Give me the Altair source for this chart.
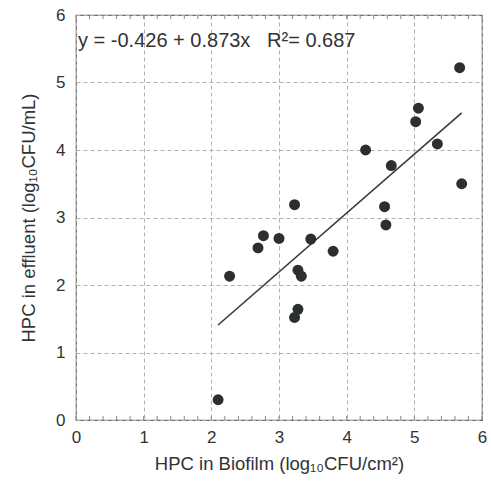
import altair as alt
import pandas as pd

biofilm = [5.67, 5.06, 5.02, 5.34, 4.28, 4.66, 5.70, 3.23, 4.56, 4.58,
           2.77, 2.69, 3.00, 3.47, 3.80, 2.27, 3.28, 3.33, 3.28, 3.23, 2.10]
effluent = [5.22, 4.62, 4.42, 4.09, 4.00, 3.77, 3.50, 3.19, 3.16, 2.89,
            2.73, 2.55, 2.69, 2.68, 2.50, 2.13, 2.22, 2.13, 1.64, 1.52, 0.30]
intercept = -0.426
slope = 0.873
r2 = 0.687
ticks = [0, 1, 2, 3, 4, 5, 6]
minor = [round(v * 0.2, 1) for v in range(31)]

FONT = "Liberation Sans"
NB = "\u00a0"
df = pd.DataFrame({"x": biofilm, "y": effluent})
xs = [min(biofilm), max(biofilm)]
line_df = pd.DataFrame({"x": xs, "y": [intercept + slope * v for v in xs]})
ann_text = f"y = {intercept} + {slope}x{NB}{NB}{NB}R\u00b2= {r2}".replace(" ", NB)
ann_df = pd.DataFrame({"x": [0.03], "y": [5.53], "t": [ann_text]})
minor_df = pd.DataFrame({"x": minor})

xscale = alt.Scale(domain=[0, 6], nice=False, zero=False)
yscale = alt.Scale(domain=[0, 6], nice=False, zero=False)

common = dict(values=ticks, format="d", grid=True, gridDash=[4, 3], gridColor="#b0b0b0",
              gridWidth=1, ticks=False, domain=False, labelFont=FONT, labelFontSize=17,
              labelColor="#333", labelFlush=False, labelOverlap=False, titleFont=FONT,
              titleFontSize=18.5, titleFontWeight="normal", titleColor="#333")
xaxis = alt.Axis(title="HPC in Biofilm (log\u2081\u2080CFU/cm\u00b2)", labelPadding=9,
                 titlePadding=9, **common)
yaxis = alt.Axis(title="HPC in effluent (log\u2081\u2080CFU/mL)", labelPadding=11,
                 titlePadding=17, **common)

points = alt.Chart(df).mark_circle(size=120, color="#2b2f2e", opacity=1).encode(
    x=alt.X("x:Q", scale=xscale, axis=xaxis),
    y=alt.Y("y:Q", scale=yscale, axis=yaxis),
)
fit = alt.Chart(line_df).mark_line(color="#3a3a3a", strokeWidth=1.6).encode(
    x=alt.X("x:Q", scale=xscale), y=alt.Y("y:Q", scale=yscale)
)
ann = alt.Chart(ann_df).mark_text(align="left", baseline="alphabetic", font=FONT,
                                  fontSize=20, color="#333").encode(
    x=alt.X("x:Q", scale=xscale), y=alt.Y("y:Q", scale=yscale), text="t:N"
)
top_minor = alt.Chart(minor_df).mark_rule(color="#888", strokeWidth=1).encode(
    x=alt.X("x:Q", scale=xscale), y=alt.value(0), y2=alt.value(4)
)
bot_minor = alt.Chart(minor_df).mark_rule(color="#888", strokeWidth=1).encode(
    x=alt.X("x:Q", scale=xscale), y=alt.value(401), y2=alt.value(405)
)

chart = alt.layer(top_minor, bot_minor, fit, points, ann).properties(
    width=406, height=405,
    autosize=alt.AutoSizeParams(type="none"),
    padding={"left": 76, "top": 15, "right": 9, "bottom": 61},
    background="white",
).configure_view(stroke="#666", strokeWidth=1.2)

chart.save("out.html", embed_options={"renderer": "svg", "actions": False})
